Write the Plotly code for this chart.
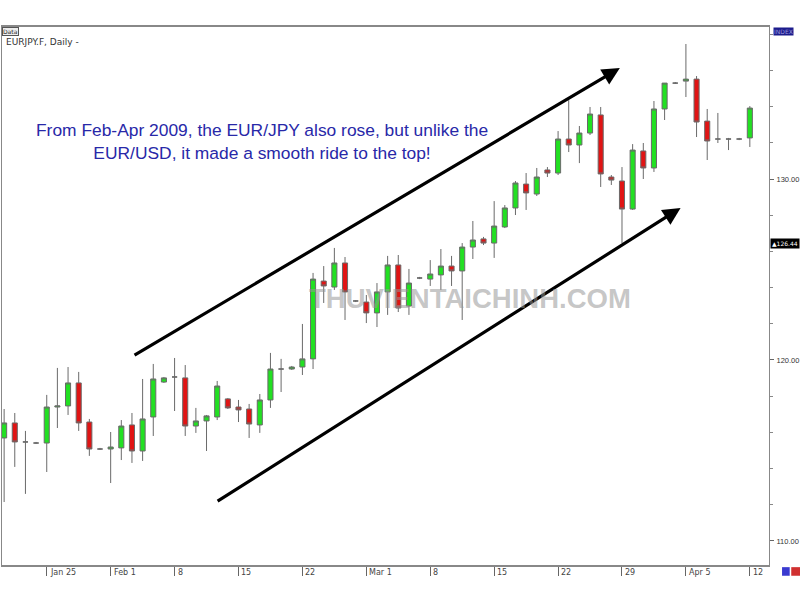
import pandas as pd
import plotly.graph_objects as go

# ---- data ----
dates = [d.strftime("%Y-%m-%d") for d in pd.bdate_range("2009-01-20", "2009-04-12", freq="C",
                                                         weekmask="Sun Mon Tue Wed Thu Fri")]
open_ = [115.69, 116.52, 115.47, 115.41, 115.41, 117.40, 117.46, 118.73, 116.57, 115.08,
         115.08, 115.14, 116.41, 114.97, 116.85, 118.78, 119.06, 119.01, 116.35, 116.63,
         116.85, 117.85, 117.40, 117.29, 116.41, 117.79, 119.50, 119.50, 119.61, 120.06,
         124.36, 124.03, 125.36, 123.26, 123.20, 122.60, 123.76, 125.25, 122.98, 124.53,
         124.47, 124.70, 125.19, 124.92, 126.24, 126.69, 126.46, 127.35, 128.40, 129.72,
         129.17, 130.50, 130.33, 132.21, 131.88, 132.54, 133.54, 130.11, 129.89, 128.34,
         131.55, 130.61, 133.87, 135.30, 135.41, 135.52, 133.20, 132.21, 132.21, 132.21,
         132.27]
high = [117.29, 117.07, 116.08, 115.47, 118.07, 119.56, 119.61, 119.34, 116.74, 115.14,
        116.02, 116.68, 117.07, 118.95, 119.78, 119.06, 120.11, 119.72, 117.35, 116.96,
        118.84, 117.90, 117.79, 117.57, 118.12, 120.39, 120.06, 119.67, 121.99, 124.81,
        125.19, 126.19, 125.69, 123.31, 123.59, 124.25, 125.75, 125.80, 125.03, 124.59,
        125.52, 126.13, 125.75, 126.46, 127.68, 126.80, 128.78, 128.56, 129.89, 130.33,
        130.61, 130.66, 132.65, 134.36, 132.93, 133.98, 133.98, 130.22, 130.66, 131.93,
        131.99, 134.31, 135.30, 135.36, 137.46, 135.69, 133.87, 133.65, 132.27, 132.27,
        134.03]
low = [112.15, 114.09, 112.60, 115.36, 113.81, 116.24, 116.96, 116.08, 114.70, 115.03,
       113.20, 114.47, 114.31, 114.42, 115.80, 118.73, 117.18, 115.80, 115.97, 114.97,
       116.68, 117.29, 116.57, 115.69, 115.97, 117.35, 118.23, 119.45, 119.17, 119.50,
       123.15, 123.87, 122.21, 123.20, 122.04, 121.82, 122.49, 122.65, 122.49, 124.47,
       124.09, 123.87, 124.09, 122.21, 125.58, 126.35, 125.64, 127.29, 128.01, 128.29,
       129.06, 130.11, 130.22, 131.49, 130.88, 132.43, 129.56, 129.67, 126.46, 128.29,
       130.00, 130.39, 133.26, 135.25, 134.53, 132.32, 131.05, 131.99, 131.60, 132.15,
       131.77]
close = [116.52, 115.47, 115.47, 115.41, 117.40, 117.46, 118.73, 116.52, 115.08, 115.08,
         115.19, 116.35, 114.97, 116.74, 118.95, 119.01, 119.06, 116.35, 116.63, 116.91,
         118.56, 117.35, 117.24, 116.46, 117.79, 119.50, 119.50, 119.61, 120.06, 124.47,
         124.09, 125.36, 123.76, 123.26, 122.60, 123.76, 125.25, 122.87, 124.25, 124.53,
         124.75, 125.19, 124.92, 126.24, 126.63, 126.46, 127.40, 128.40, 129.78, 129.23,
         130.11, 130.33, 132.21, 131.88, 132.54, 133.59, 130.28, 129.94, 128.34, 131.60,
         130.61, 133.87, 135.30, 135.30, 135.52, 133.15, 132.10, 132.21, 132.21, 132.21,
         133.92]

tick_dates = ["2009-01-25", "2009-02-01", "2009-02-08", "2009-02-15", "2009-02-22", "2009-03-01",
              "2009-03-08", "2009-03-15", "2009-03-22", "2009-03-29", "2009-04-05", "2009-04-12"]
tick_labels = ["Jan 25", "Feb 1", "8", "15", "22", "Mar 1", "8", "15", "22", "29", "Apr 5", "12"]
y_ticks = [110, 120, 130]
y_tick_labels = ["110.00", "120.00", "130.00"]
last_price = 126.44

# arrows (tail index, tail price, head index, head price)
upper_arrow = (12.1, 120.22, 57.8, 136.13)
lower_arrow = (19.9, 112.15, 63.5, 128.40)

fig = go.Figure()
fig.add_trace(go.Candlestick(
    x=dates, open=open_, high=high, low=low, close=close,
    increasing=dict(fillcolor="#22e022", line=dict(color="#6a6a6a", width=1)),
    decreasing=dict(fillcolor="#e01414", line=dict(color="#6a6a6a", width=1)),
    whiskerwidth=0, showlegend=False, hoverinfo="skip"))

ann = []
# x tick labels, left-aligned to the tick marks
for d, t in zip(tick_dates, tick_labels):
    ann.append(dict(x=d, y=0, xref="x", yref="paper", text=t, showarrow=False,
                    xanchor="left", yanchor="top", xshift=1, yshift=-1,
                    font=dict(family="DejaVu Sans", size=8, color="#444")))

for (x0, y0, x1, y1) in (upper_arrow, lower_arrow):
    ann.append(dict(x=x1, y=y1, ax=x0, ay=y0, xref="x", yref="y", axref="x", ayref="y",
                    showarrow=True, arrowhead=2, arrowsize=1.1, arrowwidth=3.2,
                    arrowcolor="#000", text=""))

ann.append(dict(x=0.339, y=0.83, xref="paper", yref="paper", showarrow=False,
                text="From Feb-Apr 2009, the EUR/JPY also rose, but unlike the<br>EUR/USD, it made a smooth ride to the top!",
                font=dict(family="Liberation Sans", size=17.4, color="#2828a8"), align="center"))

ann.append(dict(x=0.61, y=0.495, xref="paper", yref="paper", showarrow=False,
                text="<b>THUVIENTAICHINH.COM</b>",
                font=dict(family="Liberation Sans", size=27.5, color="rgba(150,150,150,0.55)")))

ann.append(dict(x=0.0, y=0.985, xref="paper", yref="paper", showarrow=False,
                text="EURJPY.F, Daily -", xanchor="left", yanchor="top", xshift=2,
                font=dict(family="DejaVu Sans", size=9, color="#333")))
ann.append(dict(x=0.0, y=1.0, xref="paper", yref="paper", showarrow=False,
                text="Data", xanchor="left", yanchor="top", xshift=0, bordercolor="#555",
                borderwidth=1, borderpad=0, bgcolor="#eee",
                font=dict(family="DejaVu Sans", size=6, color="#222")))
ann.append(dict(x=1.0, y=last_price, xref="paper", yref="y", showarrow=False,
                text="\u25b2" + f"{last_price:.2f}", xanchor="left", xshift=1,
                bgcolor="#000", borderpad=1,
                font=dict(family="DejaVu Sans", size=6, color="#fff")))
ann.append(dict(x=1.0, y=1.0, xref="paper", yref="paper", showarrow=False,
                text="INDEX", xanchor="left", yanchor="top", xshift=4,
                bgcolor="#1c1c8c", borderpad=0,
                font=dict(family="DejaVu Sans", size=6, color="#9999dd")))

fig.update_layout(
    width=800, height=600,
    margin=dict(l=2, r=31, t=27, b=35, autoexpand=False),
    paper_bgcolor="white", plot_bgcolor="white",
    boxgap=0.32,
    annotations=ann,
    shapes=[
        dict(type="rect", xref="paper", yref="paper", x0=1.017, x1=1.027, y0=-0.004, y1=-0.02,
             fillcolor="#3a3ad0", line=dict(width=0)),
        dict(type="rect", xref="paper", yref="paper", x0=1.029, x1=1.045, y0=-0.004, y1=-0.02,
             fillcolor="#d03030", line=dict(width=0)),
    ],
    xaxis=dict(type="category", range=[-0.2, 71.8], rangeslider=dict(visible=False),
               tickmode="array", tickvals=tick_dates, ticktext=[""] * len(tick_dates),
               ticks="outside", ticklen=9, tickcolor="#666", showgrid=False, automargin=False,
               showline=True, linecolor="#888", linewidth=2, mirror=True, zeroline=False),
    yaxis=dict(side="right", range=[108.67, 138.4], tickmode="array", tickvals=y_ticks,
               ticktext=y_tick_labels, ticks="outside", ticklen=4, tickcolor="#666",
               minor=dict(dtick=2, ticks="outside", ticklen=3, tickcolor="#888"),
               tickfont=dict(family="Liberation Sans", size=7.5, color="#333"),
               ticklabelstandoff=1, automargin=False,
               showgrid=False, showline=True, linecolor="#888", linewidth=1, mirror=True,
               zeroline=False),
)

fig.write_html("out.html")
